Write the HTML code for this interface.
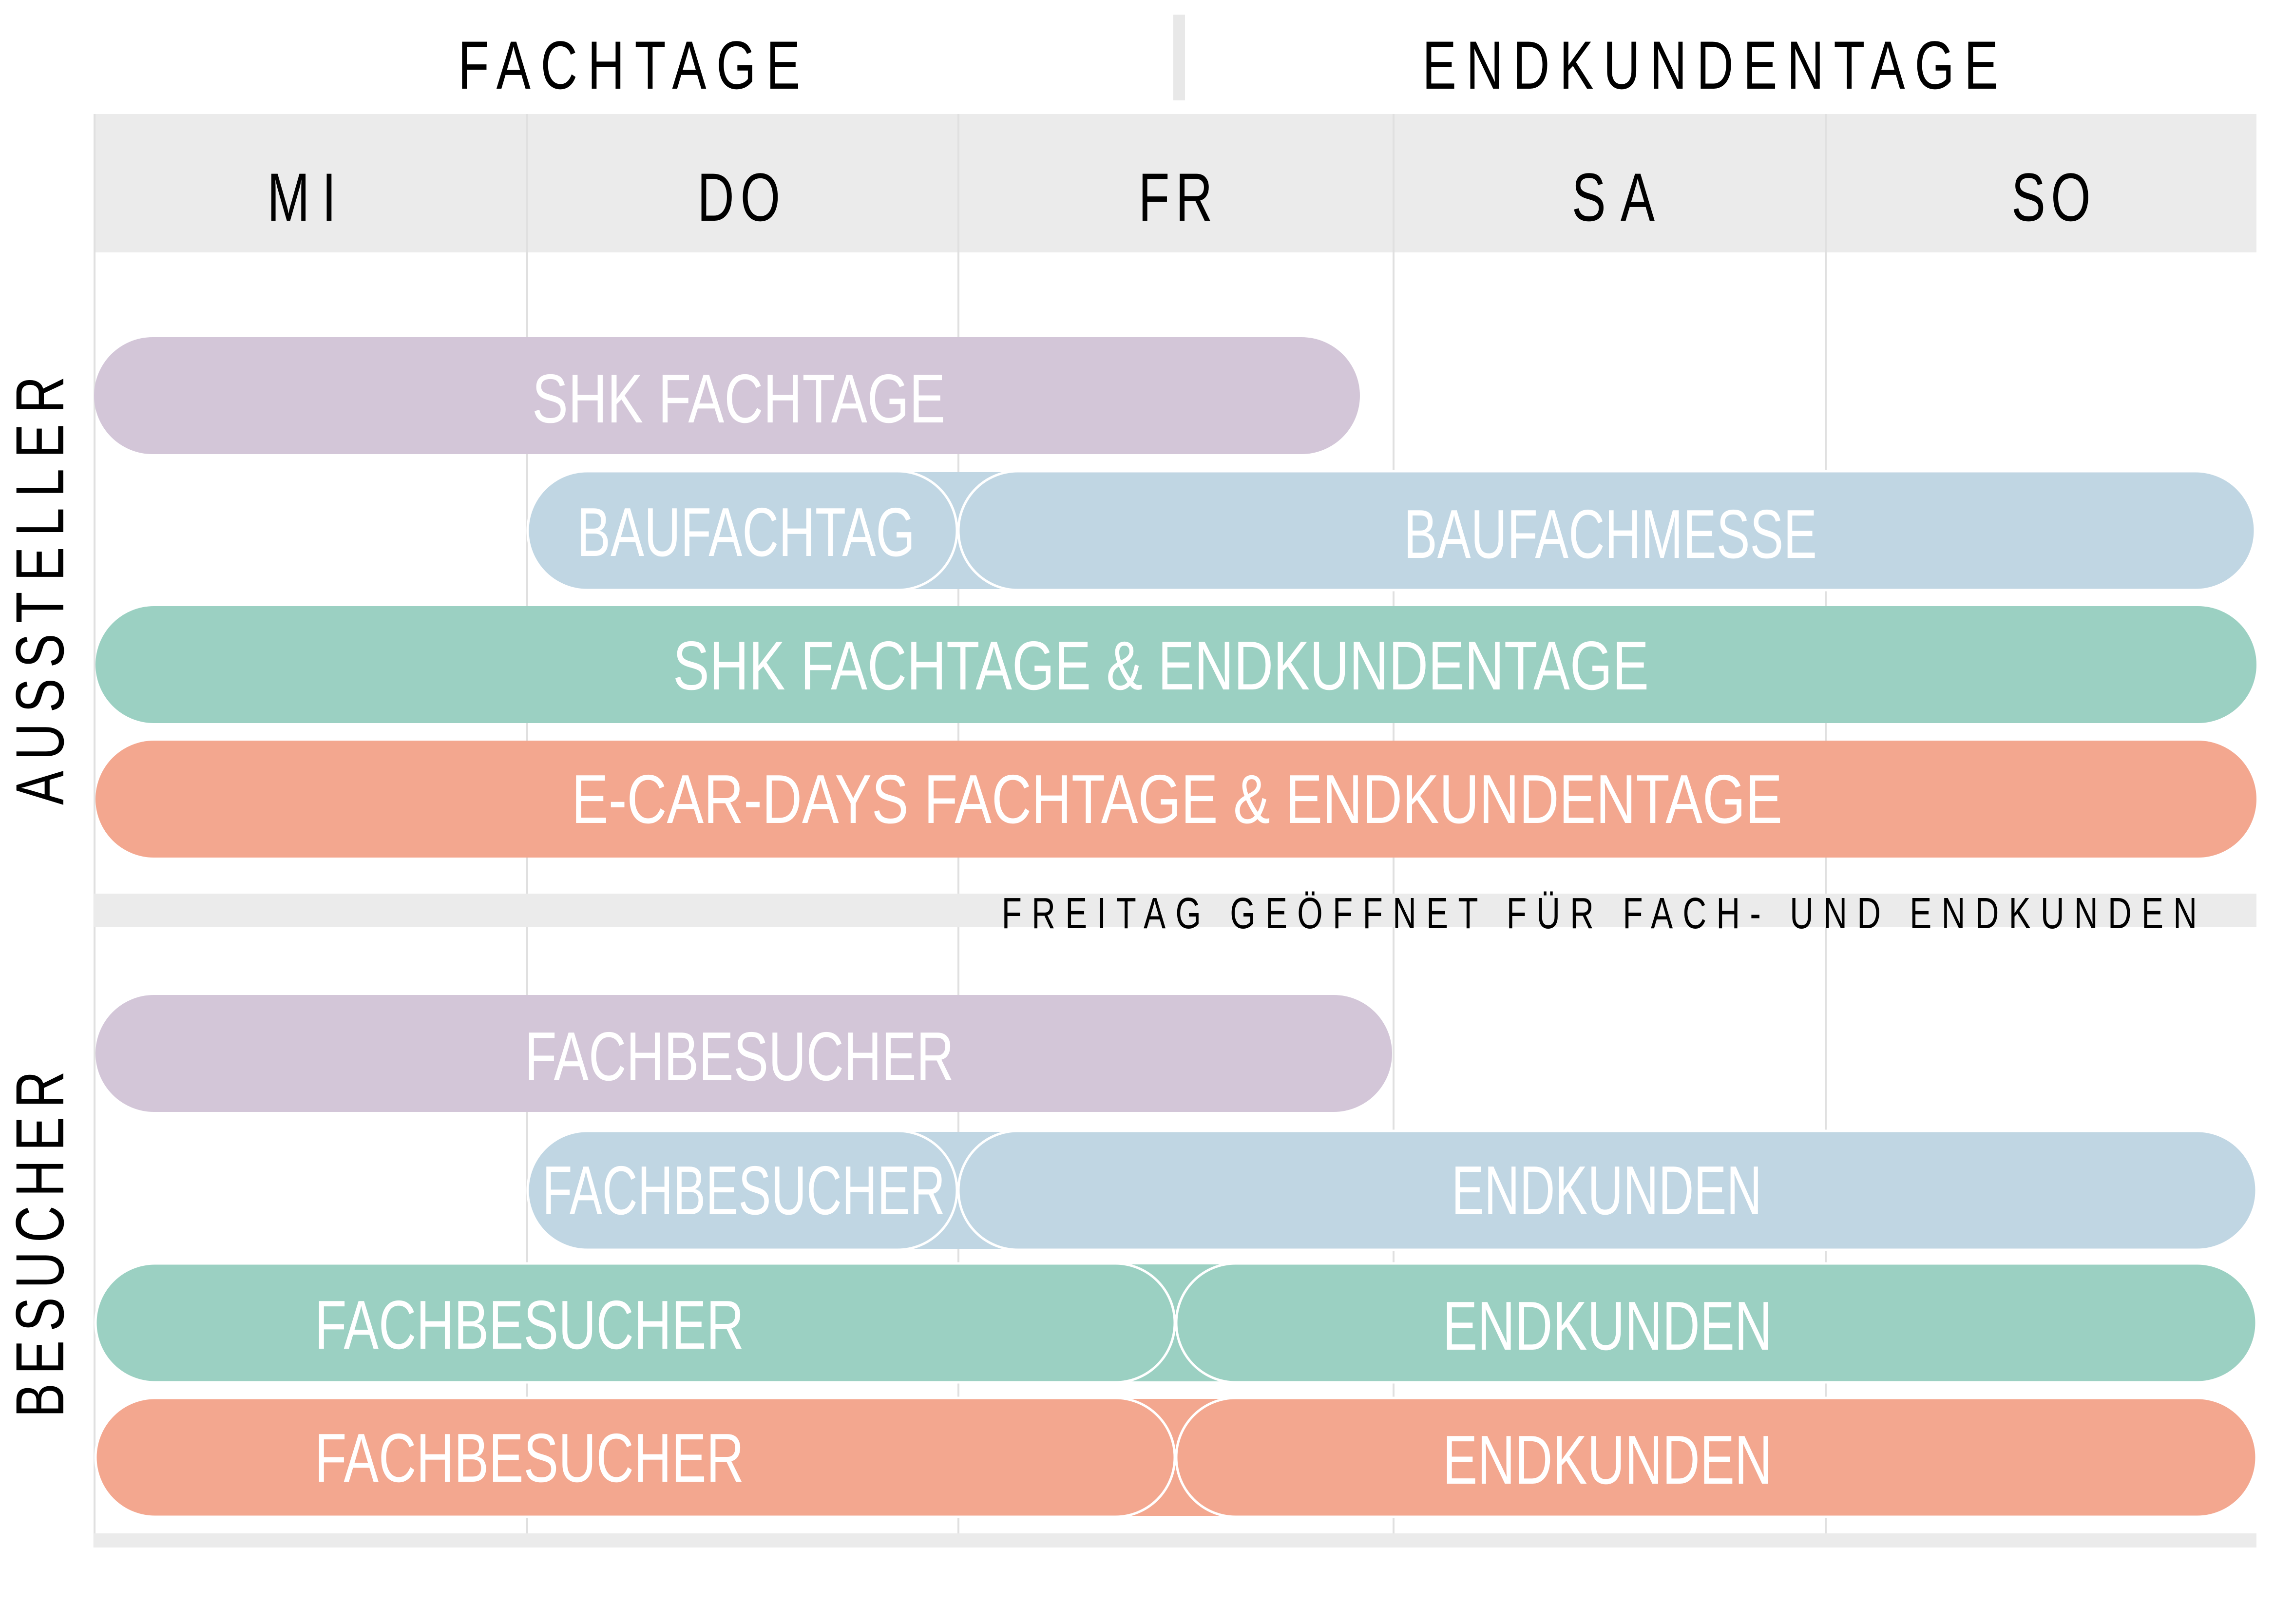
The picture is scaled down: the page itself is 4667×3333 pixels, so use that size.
<!DOCTYPE html>
<html><head><meta charset="utf-8"><style>
html,body{margin:0;padding:0;background:#fff;}
svg{display:block;}
text{font-family:"Liberation Sans Narrow","Liberation Sans",sans-serif;}
</style></head><body>
<svg width="4667" height="3333" viewBox="0 0 4667 3333" xmlns="http://www.w3.org/2000/svg">
<rect width="4667" height="3333" fill="#fff"/>
<rect x="2408" y="30" width="24" height="176" fill="#e8e8e8"/>
<g transform="scale(0.75,1)" fill="#000" font-size="140">
<text x="1253" y="182" textLength="937" lengthAdjust="spacing">FACHTAGE</text>
<text x="3892" y="182" textLength="1576" lengthAdjust="spacing">ENDKUNDENTAGE</text>
</g>
<rect x="193" y="234" width="4438" height="284" fill="#ebebeb"/>
<g fill="#e0e0e0">
<rect x="192" y="234" width="4" height="2942"/>
<rect x="1080" y="234" width="4" height="2942"/>
<rect x="1965" y="234" width="4" height="2942"/>
<rect x="2858" y="234" width="4" height="2942"/>
<rect x="3745" y="234" width="4" height="2942"/>
</g>
<g transform="scale(0.75,1)" fill="#000" font-size="140">
<text x="731" y="453" textLength="189" lengthAdjust="spacing">MI</text>
<text x="1908" y="453" textLength="227" lengthAdjust="spacing">DO</text>
<text x="3115" y="453" textLength="203" lengthAdjust="spacing">FR</text>
<text x="4301" y="453" textLength="227" lengthAdjust="spacing">SA</text>
<text x="5504" y="453" textLength="217" lengthAdjust="spacing">SO</text>
</g>
<rect x="193" y="1834" width="4438" height="69" fill="#ebebeb"/>
<rect x="193" y="3147" width="4438" height="29" fill="#ebebeb"/>
<text transform="scale(0.75,1)" x="2741" y="1905" font-size="90" textLength="3271" lengthAdjust="spacing" fill="#000">FREITAG GEÖFFNET FÜR FACH- UND ENDKUNDEN</text>
<text transform="translate(130,1652) rotate(-90) scale(0.75,1)" font-size="140" textLength="1173" lengthAdjust="spacing" fill="#000">AUSSTELLER</text>
<text transform="translate(130,2909) rotate(-90) scale(0.75,1)" font-size="140" textLength="948" lengthAdjust="spacing" fill="#000">BESUCHER</text>

<g stroke="#fff" stroke-width="5">
<rect x="193" y="692" width="2598" height="240" rx="120" fill="#d3c6d8" stroke="none"/>
<rect x="1840" y="969" width="250" height="240" fill="#c0d6e3" stroke="none"/>
<rect x="1083" y="967" width="881" height="244" rx="122" fill="#c0d6e3"/>
<rect x="1967" y="967" width="2661" height="244" rx="122" fill="#c0d6e3"/>
<rect x="196" y="1244" width="4435" height="240" rx="120" fill="#9bd0c2" stroke="none"/>
<rect x="196" y="1520" width="4435" height="240" rx="120" fill="#f3a78f" stroke="none"/>

<rect x="196" y="2042" width="2661" height="240" rx="120" fill="#d3c6d8" stroke="none"/>
<rect x="1840" y="2323" width="250" height="240" fill="#c0d6e3" stroke="none"/>
<rect x="1083" y="2321" width="881" height="244" rx="122" fill="#c0d6e3"/>
<rect x="1967" y="2321" width="2664" height="244" rx="122" fill="#c0d6e3"/>
<rect x="2280" y="2595" width="260" height="240" fill="#9bd0c2" stroke="none"/>
<rect x="196" y="2593" width="2215" height="244" rx="122" fill="#9bd0c2"/>
<rect x="2414" y="2593" width="2217" height="244" rx="122" fill="#9bd0c2"/>
<rect x="2280" y="2871" width="260" height="240" fill="#f3a78f" stroke="none"/>
<rect x="196" y="2869" width="2215" height="244" rx="122" fill="#f3a78f"/>
<rect x="2414" y="2869" width="2217" height="244" rx="122" fill="#f3a78f"/>
</g>
<g fill="#fff" font-size="142">
<text x="1092" y="867" textLength="848" lengthAdjust="spacingAndGlyphs">SHK FACHTAGE</text>
<text x="1184" y="1141" textLength="694" lengthAdjust="spacingAndGlyphs">BAUFACHTAG</text>
<text x="2881" y="1145" textLength="848" lengthAdjust="spacingAndGlyphs">BAUFACHMESSE</text>
<text x="1381" y="1415" textLength="2003" lengthAdjust="spacingAndGlyphs">SHK FACHTAGE &amp; ENDKUNDENTAGE</text>
<text x="1173" y="1689" textLength="2485" lengthAdjust="spacingAndGlyphs">E-CAR-DAYS FACHTAGE &amp; ENDKUNDENTAGE</text>
<text x="1077" y="2217" textLength="881" lengthAdjust="spacingAndGlyphs">FACHBESUCHER</text>
<text x="1113" y="2492" textLength="827" lengthAdjust="spacingAndGlyphs">FACHBESUCHER</text>
<text x="2979" y="2492" textLength="637" lengthAdjust="spacingAndGlyphs">ENDKUNDEN</text>
<text x="646" y="2768" textLength="881" lengthAdjust="spacingAndGlyphs">FACHBESUCHER</text>
<text x="2961" y="2770" textLength="676" lengthAdjust="spacingAndGlyphs">ENDKUNDEN</text>
<text x="646" y="3041" textLength="881" lengthAdjust="spacingAndGlyphs">FACHBESUCHER</text>
<text x="2961" y="3045" textLength="676" lengthAdjust="spacingAndGlyphs">ENDKUNDEN</text>
</g>
</svg>
</body></html>
